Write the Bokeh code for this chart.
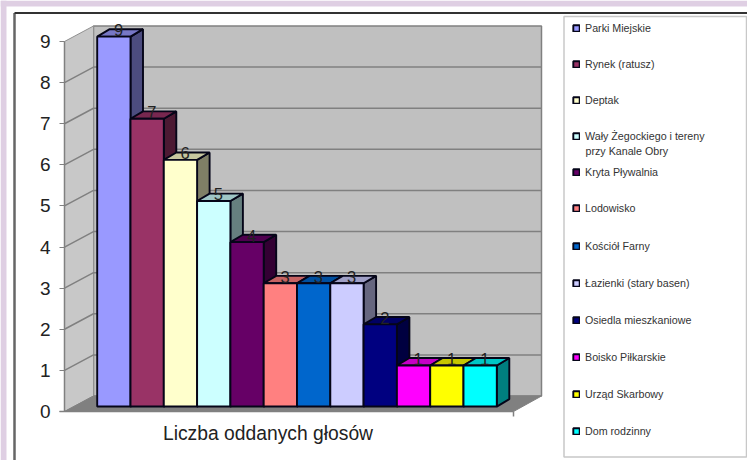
from bokeh.plotting import figure
from bokeh.models import ColumnDataSource, LinearAxis, FixedTicker, Range1d, Legend, LegendItem
from bokeh.core.properties import value
from bokeh.embed import file_html
from bokeh.resources import INLINE

categories = ["Parki Miejskie", "Rynek (ratusz)", "Deptak",
              "Wały Żegockiego i tereny", "Kryta Pływalnia", "Lodowisko",
              "Kościół Farny", "Łazienki (stary basen)", "Osiedla mieszkaniowe",
              "Boisko Piłkarskie", "Urząd Skarbowy", "Dom rodzinny"]
wrapped_line = "przy Kanale Obry"
votes = [9, 7, 6, 5, 4, 3, 3, 3, 2, 1, 1, 1]
colors = ["#9999FF", "#993366", "#FFFFCC", "#CCFFFF", "#660066", "#FF8080",
          "#0066CC", "#CCCCFF", "#000080", "#FF00FF", "#FFFF00", "#00FFFF"]
title_text = "Liczba oddanych głosów"
y_ticks = list(range(10))

W, H = 747, 460
# page pixel -> data helpers (layout only)
PX, PY = 33.3, 41.11
def X(px): return (px - 96.7) / PX
def Y(py): return (411 - py) / PY

def shade(c, f):
    r, g, b = int(c[1:3], 16), int(c[3:5], 16), int(c[5:7], 16)
    return "#%02x%02x%02x" % (int(r * f), int(g * f), int(b * f))

p = figure(width=W, height=H, output_backend="svg", toolbar_location=None,
           x_range=Range1d(X(0), X(747)), y_range=Range1d(Y(460), Y(0)),
           min_border=0, min_border_left=0, min_border_right=0, min_border_top=0, min_border_bottom=0,
           outline_line_color=None, background_fill_color="white", border_fill_color="white",
           x_axis_location=None, y_axis_location=None)
p.grid.visible = False

# page surround, picture frame and legend box
lilac = "#DFCFE3"
p.quad(left=[X(0), X(0)], right=[X(747), X(6)], top=[Y(0), Y(0)], bottom=[Y(6), Y(460)],
       fill_color=lilac, line_color=None)
p.line([X(14), X(14)], [Y(12.5), Y(460)], line_color="#666666", line_width=2.5)
p.line([X(14), X(747)], [Y(12.5), Y(12.5)], line_color="#333333", line_width=2)
p.quad(left=[X(563.5)], right=[X(746)], top=[Y(16)], bottom=[Y(456.5)],
       fill_color="white", line_color="#C8C8C8", line_width=1.5)

# walls and floor
wx0, wx1, fx1 = X(64), X(93), X(513)
bx1 = X(541)
dy = Y(395.5)  # depth rise of the floor
top = 9 + dy
p.patch([wx1, bx1, bx1, wx1], [dy, dy, top, top], fill_color="#C0C0C0", line_color="#808080", line_width=1.5)
p.patch([wx0, wx1, wx1, wx0], [0, dy, top, 9], fill_color="#C8C8C8", line_color="#909090", line_width=1)
p.patch([wx0, fx1, bx1, wx1], [0, 0, dy, dy], fill_color="#808080", line_color="#808080", line_width=1)
for t in y_ticks[1:9]:
    p.line([wx0, wx1, bx1], [t, t + dy, t + dy], line_color="#808080", line_width=1.5)

# floor front edge and its end ticks
p.segment([wx0, wx0, fx1], [0, 0, 0], [fx1, X(59), fx1], [0, 0, Y(416)], line_color="#808080", line_width=1.5)

# 3D bars, painted left to right
base = 0.12
ddx, ddy = 12.5 / PX, 7.4 / PY
edge = dict(line_color="#050518", line_width=1.9)
fronts = []
for i, (v, c) in enumerate(zip(votes, colors)):
    h = v + base
    l, r = i, i + 1
    p.patch([r, r + ddx, r + ddx, r], [base, base + ddy, h + ddy, h], fill_color=shade(c, 0.5), **edge)
    p.patch([l, r, r + ddx, l + ddx], [h, h, h + ddy, h + ddy], fill_color=shade(c, 0.78), **edge)
    fronts.append(p.quad(left=[l], right=[r], bottom=[base], top=[h], fill_color=c, **edge))

# value labels
src = ColumnDataSource(dict(x=[i + 0.5 + 0.14 for i in range(len(votes))],
                            y=[v + base + 0.16 for v in votes],
                            t=[str(v) for v in votes]))
p.text("x", "y", text="t", source=src, text_align="center", text_baseline="middle",
       text_font=value("Liberation Sans"), text_font_size="16.5px", text_color="#222222")

# value axis
ya = LinearAxis(fixed_location=wx0, ticker=FixedTicker(ticks=y_ticks), bounds=(0, 9))
ya.axis_line_color = "#808080"; ya.axis_line_width = 1.5
ya.major_tick_line_color = "#808080"; ya.major_tick_in = 0; ya.major_tick_out = 5
ya.minor_tick_line_color = None
ya.major_label_text_font = "Liberation Sans"; ya.major_label_text_font_size = "19px"
ya.major_label_text_color = "#222222"; ya.major_label_standoff = 9
p.add_layout(ya, "left")

p.text([X(267.5)], [Y(432.7)], text=[title_text], text_align="center", text_baseline="middle",
       text_font=value("Liberation Sans"), text_font_size="19.3px", text_color="#222222")

# legend: two stacks so the row pitch (about 36.5 px) stays within a pixel
def stack(lo, hi, top_row_y, pitch):
    items = [LegendItem(label=categories[i], renderers=[fronts[i]]) for i in range(lo, hi)]
    rows = hi - lo
    height = rows * 16 + (rows - 1) * (pitch - 16)
    bottom_y = top_row_y - 8 + height
    leg = Legend(items=items, location=(572, 460 - bottom_y), orientation="vertical",
                 spacing=pitch - 16, padding=0, margin=0, glyph_width=8, glyph_height=8,
                 label_standoff=5, label_height=16, label_text_font="Liberation Sans",
                 label_text_font_size="10.7px", label_text_color="#333333",
                 background_fill_alpha=0, border_line_color=None)
    p.add_layout(leg, "center")

stack(0, 6, 27.5, 36)
stack(6, 12, 245.7, 37)
p.text([X(585)], [Y(150)], text=[wrapped_line], text_align="left", text_baseline="middle",
       text_font=value("Liberation Sans"), text_font_size="10.7px", text_color="#333333")

open("out.html", "w").write(file_html(p, INLINE))
